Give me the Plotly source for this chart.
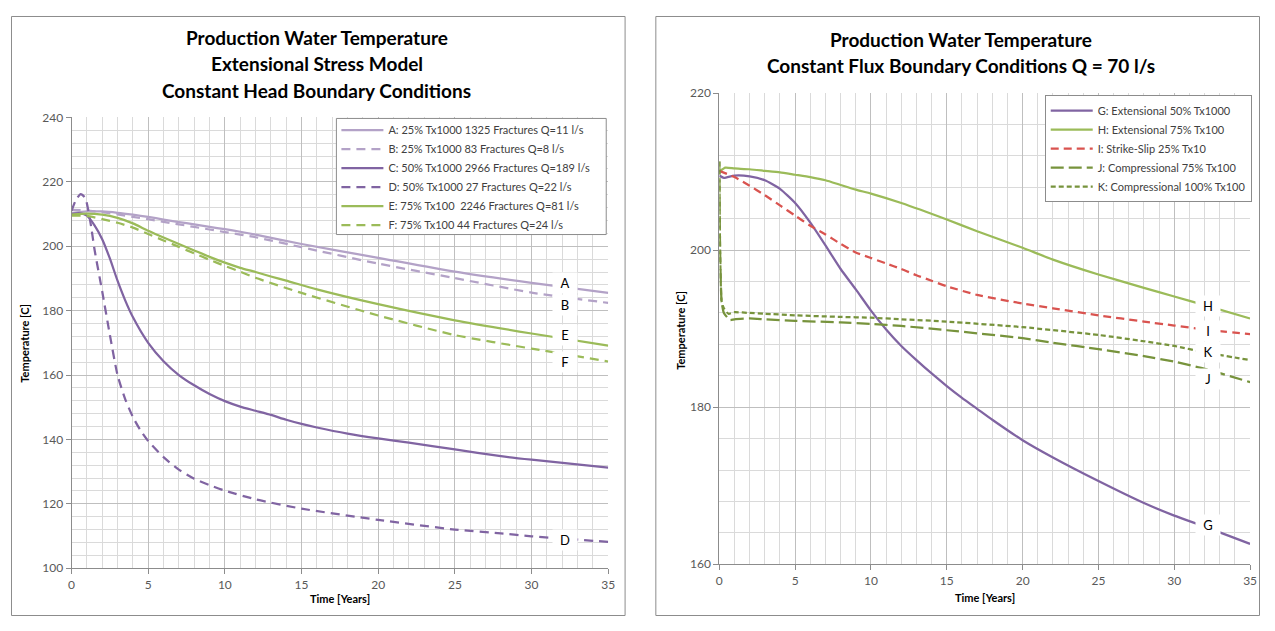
import plotly.graph_objects as go

# ---------------- Left chart data (Constant Head) ----------------
x_A = [0, 1, 2, 3, 4, 5, 6, 7, 8, 9, 10, 11, 12, 15, 20, 25, 30, 35]
A = [210.3, 210.8, 210.8, 210.4, 209.8, 209.1, 208.3, 207.5, 206.8, 206.0, 205.3, 204.5, 203.6, 200.7, 196.4, 192.1, 188.6, 185.5]
x_B = [0, 1, 2, 3, 4, 5, 6, 7, 8, 9, 10, 11, 12, 15, 20, 25, 30, 35]
B = [211.3, 211.1, 210.6, 209.9, 209.1, 208.4, 207.6, 206.8, 206.0, 205.2, 204.4, 203.6, 202.8, 199.7, 194.6, 190.1, 185.6, 182.4]
x_C = [0, 0.5, 1, 1.5, 2, 2.5, 3, 3.5, 4, 5, 6, 7, 8, 9, 10, 11, 12, 13, 14, 15, 16, 18, 20, 22, 25, 28, 30, 35]
C = [210.0, 210.3, 209.5, 206.5, 202.2, 196.2, 189.3, 183.2, 178.0, 170.0, 164.3, 160.0, 156.8, 154.1, 151.9, 150.2, 148.9, 147.6, 146.1, 144.8, 143.7, 141.8, 140.3, 139.0, 136.9, 134.8, 133.7, 131.2]
x_D = [0, 0.3, 0.6, 0.9, 1.1, 1.3, 1.5, 2, 2.5, 3, 3.5, 4, 4.5, 5, 6, 7, 8, 9, 10, 12, 15, 20, 25, 28, 30, 35]
D = [211.0, 214.5, 216.2, 215.0, 211.0, 205.5, 199.0, 186.0, 172.5, 160.0, 152.5, 147.0, 142.8, 139.5, 134.5, 130.6, 127.8, 125.8, 124.1, 121.4, 118.5, 115.0, 112.0, 110.8, 109.9, 108.2]
x_E = [0, 1, 2, 3, 4, 5, 6, 7, 8, 9, 10, 11, 12, 13, 14, 16, 20, 25, 30, 35]
E = [209.8, 210.1, 209.8, 208.8, 207.1, 204.8, 202.7, 200.7, 198.7, 196.7, 194.9, 193.3, 192.0, 190.6, 189.3, 186.6, 182.0, 177.0, 172.9, 169.1]
x_F = [0, 1, 2, 3, 4, 5, 6, 7, 8, 9, 10, 11, 12, 15, 20, 25, 30, 35]
F = [209.5, 209.4, 208.4, 207.3, 205.8, 203.8, 201.8, 199.8, 197.8, 195.8, 193.9, 192.1, 190.2, 185.5, 178.5, 172.4, 168.2, 164.2]

# ---------------- Right chart data (Constant Flux) ----------------
x_G = [0, 0.3, 1, 2, 3, 4, 5, 6, 7, 8, 9, 10, 11, 12, 13, 14, 15, 16, 17, 18, 20, 22, 25, 28, 30, 32, 35]
G = [209.5, 209.2, 209.5, 209.4, 208.9, 207.8, 206.0, 203.5, 200.6, 197.6, 195.0, 192.3, 189.9, 187.8, 186.0, 184.3, 182.7, 181.2, 179.8, 178.4, 175.8, 173.6, 170.6, 167.8, 166.2, 164.8, 162.6]
x_H = [0, 0.4, 1, 2, 3, 4, 5, 6, 7, 8, 9, 10, 12, 15, 17, 20, 22, 25, 28, 30, 32, 35]
H = [210.0, 210.5, 210.4, 210.3, 210.1, 209.9, 209.6, 209.3, 208.9, 208.3, 207.7, 207.2, 206.0, 203.9, 202.4, 200.3, 198.8, 196.9, 195.2, 194.1, 193.0, 191.3]
x_I = [0, 1, 2, 3, 4, 5, 6, 7, 8, 9, 10, 11, 12, 13, 14, 15, 17, 20, 22, 25, 28, 30, 32, 35]
I = [210.1, 209.3, 208.2, 207.0, 205.7, 204.4, 203.1, 202.0, 200.8, 199.7, 199.0, 198.3, 197.6, 196.8, 196.1, 195.4, 194.3, 193.2, 192.6, 191.7, 190.9, 190.4, 189.9, 189.3]
x_J = [0, 0.05, 0.15, 0.3, 0.7, 1, 2, 3, 5, 8, 10, 12, 15, 20, 22, 25, 28, 30, 32, 35]
J = [211.3, 200.0, 193.5, 192.0, 191.1, 191.2, 191.3, 191.2, 191.0, 190.8, 190.6, 190.35, 189.8, 188.8, 188.2, 187.4, 186.5, 185.8, 184.9, 183.2]
x_K = [0, 0.05, 0.15, 0.3, 0.6, 1, 2, 3, 5, 8, 10, 12, 15, 20, 25, 28, 30, 32, 35]
K = [211.3, 200.0, 193.5, 192.6, 191.9, 192.1, 192.0, 191.9, 191.7, 191.5, 191.4, 191.2, 190.9, 190.2, 189.2, 188.4, 187.8, 187.0, 186.0]

names_left = ["A: 25% Tx1000 1325 Fractures Q=11 l/s",
              "B: 25% Tx1000 83 Fractures Q=8 l/s",
              "C: 50% Tx1000 2966 Fractures Q=189 l/s",
              "D: 50% Tx1000 27 Fractures Q=22 l/s",
              "E: 75% Tx100  2246 Fractures Q=81 l/s",
              "F: 75% Tx100 44 Fractures Q=24 l/s"]
names_right = ["G: Extensional 50% Tx1000",
               "H: Extensional 75% Tx100",
               "I: Strike-Slip 25% Tx10",
               "J: Compressional 75% Tx100",
               "K: Compressional 100% Tx100"]

LIGHT_PURPLE = "#B3A2C7"
PURPLE = "#8064A2"
GREEN = "#9BBB59"
RED = "#D9534F"
OLIVE = "#77933C"
FONT = "Lato"

fig = go.Figure()

left_series = [(x_A, A, LIGHT_PURPLE, "solid"), (x_B, B, LIGHT_PURPLE, "9px,6px"),
               (x_C, C, PURPLE, "solid"), (x_D, D, PURPLE, "9px,6px"),
               (x_E, E, GREEN, "solid"), (x_F, F, GREEN, "9px,6px")]
for (xs, ys, col, dash), nm in zip(left_series, names_left):
    fig.add_trace(go.Scatter(x=xs, y=ys, mode="lines", name=nm,
                             line=dict(color=col, width=2.25, dash=dash, shape="spline", smoothing=0.6),
                             xaxis="x", yaxis="y", legend="legend"))

right_series = [(x_G, G, PURPLE, "solid"), (x_H, H, GREEN, "solid"),
                (x_I, I, RED, "8px,5px"), (x_J, J, OLIVE, "13px,5px"), (x_K, K, OLIVE, "5px,3px")]
for (xs, ys, col, dash), nm in zip(right_series, names_right):
    fig.add_trace(go.Scatter(x=xs, y=ys, mode="lines", name=nm,
                             line=dict(color=col, width=2.25, dash=dash, shape="spline", smoothing=0.5),
                             xaxis="x2", yaxis="y2", legend="legend2"))

# The page body keeps its default 8px margin, so the figure is 16px smaller
# than the window and every screen pixel p maps to figure pixel p - 8.
OFF = 8
FW, FH = 1275 - 2 * OFF, 631 - 2 * OFF


def px_x(p):
    return (p - OFF) / FW


def px_y(p):
    return 1 - (p - OFF) / FH


def xaxis_cfg(dom, anchor):
    return dict(domain=dom, anchor=anchor, range=[0, 35], dtick=5, showgrid=True, gridcolor="#BFBFBF", gridwidth=1,
                minor=dict(dtick=1, showgrid=True, gridcolor="#DADADA", gridwidth=1),
                showline=True, linecolor="#8C8C8C", linewidth=1, ticks="outside", ticklen=5, tickcolor="#8C8C8C",
                tickfont=dict(family=FONT, size=12, color="#595959"), zeroline=False, fixedrange=True)


def yaxis_cfg(dom, anchor, rng):
    return dict(domain=dom, anchor=anchor, range=rng, dtick=20, showgrid=True, gridcolor="#BFBFBF", gridwidth=1,
                minor=dict(dtick=4, showgrid=True, gridcolor="#DADADA", gridwidth=1),
                showline=True, linecolor="#8C8C8C", linewidth=1, ticks="outside", ticklen=5, tickcolor="#8C8C8C",
                tickfont=dict(family=FONT, size=12, color="#595959"), zeroline=False, fixedrange=True)


annotations = []
for i, line in enumerate(["Production Water Temperature", "Extensional Stress Model", "Constant Head Boundary Conditions"]):
    annotations.append(dict(text="<b>%s</b>" % line, x=px_x(316), y=px_y(30 + 27 * i), xref="paper", yref="paper",
                            showarrow=False, font=dict(family=FONT, size=19, color="#000000"),
                            xanchor="center", yanchor="middle"))
for i, line in enumerate(["Production Water Temperature", "Constant Flux Boundary Conditions Q = 70 l/s"]):
    annotations.append(dict(text="<b>%s</b>" % line, x=px_x(966), y=px_y(32 + 27 * i), xref="paper", yref="paper",
                            showarrow=False, font=dict(family=FONT, size=19, color="#000000"),
                            xanchor="center", yanchor="middle"))
for xc, yc in [(340, 605), (990, 604)]:
    annotations.append(dict(text="<b>Time [Years]</b>", x=px_x(xc), y=px_y(yc), xref="paper", yref="paper",
                            showarrow=False, font=dict(family=FONT, size=11, color="#000000"),
                            xanchor="center", yanchor="middle"))
for xc, yc in [(22, 343), (683, 330)]:
    annotations.append(dict(text="<b>Temperature [C]</b>", x=px_x(xc), y=px_y(yc), xref="paper", yref="paper",
                            showarrow=False, textangle=-90, font=dict(family=FONT, size=11, color="#000000"),
                            xanchor="center", yanchor="middle"))
for lab, yv in [("A", 188.5), ("B", 181.8), ("E", 172.4), ("F", 164.2), ("D", 108.8)]:
    annotations.append(dict(text=lab, x=32.2, y=yv, xref="x", yref="y", showarrow=False, bgcolor="white",
                            width=22, height=18, font=dict(family=FONT, size=13, color="#000000")))
for lab, yv in [("H", 192.9), ("I", 189.7), ("K", 187.0), ("J", 183.6), ("G", 165.0)]:
    annotations.append(dict(text=lab, x=32.2, y=yv, xref="x2", yref="y2", showarrow=False, bgcolor="white",
                            width=22, height=18, font=dict(family=FONT, size=13, color="#000000")))

shapes = [
    dict(type="rect", xref="paper", yref="paper", x0=0.5 / FW, x1=px_x(627), y0=0.5 / FH, y1=1 - 0.5 / FH,
         line=dict(color="#8C8C8C", width=1), fillcolor="rgba(0,0,0,0)", layer="below"),
    dict(type="rect", xref="paper", yref="paper", x0=px_x(658), x1=1 - 0.5 / FW, y0=0.5 / FH, y1=1 - 0.5 / FH,
         line=dict(color="#8C8C8C", width=1), fillcolor="rgba(0,0,0,0)", layer="below"),
    # frame of the left legend (wider than plotly's own legend box, as in the original)
    dict(type="rect", xref="paper", yref="paper", x0=px_x(336), x1=px_x(608), y0=px_y(232), y1=px_y(113),
         line=dict(color="#8C8C8C", width=1), fillcolor="white", layer="above"),
]

fig.update_layout(
    width=FW, height=FH, margin=dict(l=0, r=0, t=0, b=0),
    paper_bgcolor="white", plot_bgcolor="white",
    font=dict(family=FONT),
    xaxis=xaxis_cfg([px_x(69), px_x(610)], "y"),
    yaxis=yaxis_cfg([px_y(574), px_y(112)], "x", [100, 240]),
    xaxis2=xaxis_cfg([px_x(722), px_x(1257)], "y2"),
    yaxis2=yaxis_cfg([px_y(570), px_y(87)], "x2", [160, 220]),
    legend=dict(x=px_x(336), y=px_y(110), xanchor="left", yanchor="top", bgcolor="rgba(0,0,0,0)",
                borderwidth=0, itemwidth=42,
                font=dict(family=FONT, size=11, color="#404040"), tracegroupgap=0),
    legend2=dict(x=px_x(1050), y=px_y(89), xanchor="left", yanchor="top", bgcolor="white", bordercolor="#8C8C8C",
                 borderwidth=1, itemwidth=42, font=dict(family=FONT, size=11, color="#404040"), tracegroupgap=0),
    annotations=annotations, shapes=shapes, showlegend=True,
)

fig.write_html("out.html", config={"displayModeBar": False})
